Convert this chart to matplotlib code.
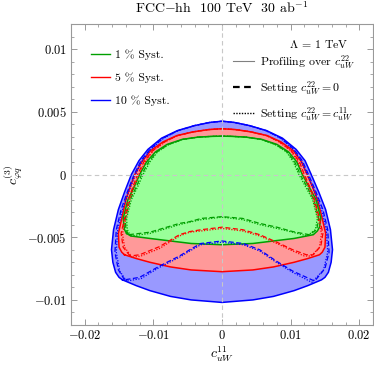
import numpy as np
import matplotlib
matplotlib.use("Agg")
import matplotlib.pyplot as plt
from matplotlib.lines import Line2D

plt.rcParams['font.family'] = 'serif'
plt.rcParams['font.serif'] = ['cmr10', 'DejaVu Serif']
plt.rcParams['mathtext.fontset'] = 'cm'
plt.rcParams['axes.formatter.use_mathtext'] = True

# ---------------- data, (c_uW^11, c_phiq^(3)) ----------------
# Profiling over c22 (solid, filled)
blue_solid = [(-0.0145, -0.0084), (-0.0150, -0.0082), (-0.0155, -0.0078), (-0.0159, -0.0070), (-0.0161, -0.0060),
              (-0.0158, -0.0044), (-0.0151, -0.0028), (-0.0142, -0.0014), (-0.0132, 0.0), (-0.0121, 0.0011),
              (-0.0108, 0.0020), (-0.0088, 0.0029), (-0.0065, 0.0035), (-0.0040, 0.0039), (-0.0018, 0.00415),
              (0.0, 0.00425), (0.0018, 0.00415), (0.0040, 0.0039), (0.0065, 0.0035), (0.0088, 0.0029),
              (0.0108, 0.0020), (0.0121, 0.0011), (0.0130, 0.0), (0.0141, -0.0014), (0.0151, -0.0028),
              (0.0158, -0.0044), (0.0161, -0.0060), (0.0159, -0.0070), (0.0155, -0.0078), (0.0150, -0.0082),
              (0.0145, -0.0084), (0.0125, -0.00886), (0.0105, -0.00926), (0.0075, -0.00972), (0.0045, -0.0100),
              (0.0, -0.0102), (-0.0045, -0.0100), (-0.0075, -0.00972), (-0.0105, -0.00926), (-0.0125, -0.00886),
              (-0.0145, -0.0084)]

red_solid = [(-0.0142, -0.0064), (-0.0146, -0.0062), (-0.0150, -0.0058), (-0.0151, -0.0047), (-0.0146, -0.0035),
             (-0.0140, -0.0020), (-0.0134, -0.0010), (-0.0127, 0.0), (-0.0117, 0.0010), (-0.0104, 0.0019),
             (-0.0086, 0.0026), (-0.0066, 0.0031), (-0.0042, 0.0034), (-0.0020, 0.00358), (0.0, 0.00365),
             (0.0020, 0.00358), (0.0042, 0.0034), (0.0066, 0.0031), (0.0086, 0.0026), (0.0104, 0.0019),
             (0.0116, 0.0010), (0.0124, 0.0), (0.0132, -0.0010), (0.0139, -0.0020), (0.0146, -0.0035),
             (0.0151, -0.0047), (0.0150, -0.0058), (0.0146, -0.0062), (0.0142, -0.0064), (0.0125, -0.0067),
             (0.0105, -0.0070), (0.0075, -0.00737), (0.0045, -0.00761), (0.0, -0.00775), (-0.0045, -0.00761),
             (-0.0075, -0.00737), (-0.0105, -0.0070), (-0.0125, -0.0067), (-0.0142, -0.0064)]

green_solid = [(-0.0139, -0.00470), (-0.0142, -0.0044), (-0.0144, -0.0035), (-0.0137, -0.0020), (-0.0128, -0.0010),
               (-0.0120, 0.0), (-0.0110, 0.0010), (-0.0097, 0.0018), (-0.0080, 0.0024), (-0.0058, 0.0028),
               (-0.0035, 0.00298), (-0.0015, 0.00304), (0.0, 0.00306), (0.0015, 0.00304), (0.0035, 0.00298),
               (0.0058, 0.0028), (0.0080, 0.0024), (0.0097, 0.0018), (0.0109, 0.0010), (0.0117, 0.0),
               (0.0127, -0.0010), (0.0137, -0.0020), (0.0144, -0.0035), (0.0142, -0.0042), (0.0139, -0.0045),
               (0.0133, -0.0048), (0.0105, -0.0051), (0.0075, -0.0053), (0.0045, -0.0055), (0.0, -0.0056),
               (-0.0045, -0.0055), (-0.0075, -0.0053), (-0.0105, -0.0051), (-0.0133, -0.0049), (-0.0139, -0.00470)]

# Setting c22 = 0 (dashed)
blue_dash = [(-0.0142, -0.0084), (-0.0151, -0.0076), (-0.0156, -0.0062), (-0.0154, -0.0044), (-0.0147, -0.0028),
             (-0.0138, -0.0014), (-0.0128, 0.0), (-0.0118, 0.0011), (-0.0105, 0.0020), (-0.0086, 0.0029),
             (-0.0064, 0.0035), (-0.0040, 0.0039), (-0.0018, 0.00415), (0.0, 0.00425), (0.0018, 0.00415),
             (0.0040, 0.0039), (0.0064, 0.0035), (0.0086, 0.0029), (0.0105, 0.0020), (0.0117, 0.0011),
             (0.0126, 0.0), (0.0137, -0.0014), (0.0147, -0.0028), (0.0154, -0.0044), (0.0156, -0.0062),
             (0.0150, -0.0075), (0.0135, -0.0085), (0.0103, -0.0077), (0.0079, -0.0069), (0.0055, -0.0060),
             (0.0031, -0.0055), (0.0, -0.0053), (-0.0031, -0.0055), (-0.0047, -0.0060), (-0.0062, -0.0065),
             (-0.0091, -0.0073), (-0.0120, -0.0082), (-0.0142, -0.0084)]

red_dash = [(-0.0134, -0.0065), (-0.0144, -0.0058), (-0.0147, -0.0047), (-0.0142, -0.0035), (-0.0136, -0.0020),
            (-0.0130, -0.0010), (-0.0123, 0.0), (-0.0114, 0.0010), (-0.0101, 0.0019), (-0.0084, 0.0026),
            (-0.0065, 0.0031), (-0.0042, 0.0034), (-0.0020, 0.00358), (0.0, 0.00365), (0.0020, 0.00358),
            (0.0042, 0.0034), (0.0065, 0.0031), (0.0084, 0.0026), (0.0101, 0.0019), (0.0113, 0.0010),
            (0.0120, 0.0), (0.0128, -0.0010), (0.0135, -0.0020), (0.0142, -0.0035), (0.0147, -0.0047),
            (0.0144, -0.0057), (0.0133, -0.0064), (0.0123, -0.0064), (0.0103, -0.0060), (0.0080, -0.0054),
            (0.0055, -0.0048), (0.0030, -0.0044), (0.0, -0.0042), (-0.0030, -0.0044), (-0.0047, -0.00455),
            (-0.0062, -0.0048), (-0.0091, -0.00575), (-0.0120, -0.0064), (-0.0134, -0.0065)]

green_dash = [(-0.0136, -0.0048), (-0.0140, -0.0044), (-0.0141, -0.0035), (-0.0134, -0.0020), (-0.0125, -0.0010),
              (-0.0117, 0.0), (-0.0107, 0.0010), (-0.0095, 0.0018), (-0.0078, 0.0024), (-0.0057, 0.0028),
              (-0.0035, 0.00298), (-0.0015, 0.00304), (0.0, 0.00306), (0.0015, 0.00304), (0.0035, 0.00298),
              (0.0057, 0.0028), (0.0078, 0.0024), (0.0095, 0.0018), (0.0106, 0.0010), (0.0114, 0.0),
              (0.0124, -0.0010), (0.0134, -0.0020), (0.0141, -0.0035), (0.0138, -0.0044), (0.0127, -0.0048),
              (0.0103, -0.00455), (0.0080, -0.0042), (0.0055, -0.0039), (0.0030, -0.0035), (0.0, -0.00336),
              (-0.0030, -0.0035), (-0.0047, -0.00376), (-0.0062, -0.0039), (-0.0105, -0.0046), (-0.0136, -0.0048)]

# Setting c22 = c11 (dotted)
blue_dot = [(-0.0139, -0.0085), (-0.0149, -0.0077), (-0.0154, -0.0062), (-0.0152, -0.0044), (-0.0145, -0.0028),
            (-0.0136, -0.0014), (-0.0126, 0.0), (-0.0116, 0.0011), (-0.0104, 0.0020), (-0.0085, 0.0029),
            (-0.0064, 0.0035), (-0.0040, 0.0039), (-0.0018, 0.00415), (0.0, 0.00425), (0.0018, 0.00415),
            (0.0040, 0.0039), (0.0064, 0.0035), (0.0085, 0.0029), (0.0104, 0.0020), (0.0115, 0.0011),
            (0.0124, 0.0), (0.0135, -0.0014), (0.0145, -0.0028), (0.0152, -0.0044), (0.0154, -0.0062),
            (0.0148, -0.0076), (0.0131, -0.0086), (0.0103, -0.0078), (0.0079, -0.0070), (0.0055, -0.0061),
            (0.0031, -0.0056), (0.0, -0.0054), (-0.0031, -0.0056), (-0.0047, -0.0061), (-0.0062, -0.0066),
            (-0.0091, -0.0074), (-0.0118, -0.0083), (-0.0139, -0.0085)]

red_dot = [(-0.0131, -0.0066), (-0.0142, -0.0058), (-0.0145, -0.0047), (-0.0140, -0.0035), (-0.0134, -0.0020),
           (-0.0128, -0.0010), (-0.0121, 0.0), (-0.0112, 0.0010), (-0.0100, 0.0019), (-0.0083, 0.0026),
           (-0.0065, 0.0031), (-0.0042, 0.0034), (-0.0020, 0.00358), (0.0, 0.00365), (0.0020, 0.00358),
           (0.0042, 0.0034), (0.0065, 0.0031), (0.0083, 0.0026), (0.0100, 0.0019), (0.0111, 0.0010),
           (0.0118, 0.0), (0.0126, -0.0010), (0.0133, -0.0020), (0.0140, -0.0035), (0.0145, -0.0047),
           (0.0142, -0.0058), (0.0130, -0.0065), (0.0120, -0.0065), (0.0103, -0.0061), (0.0080, -0.0055),
           (0.0055, -0.0049), (0.0030, -0.0045), (0.0, -0.0043), (-0.0030, -0.0045), (-0.0047, -0.0046),
           (-0.0062, -0.0049), (-0.0091, -0.0059), (-0.0118, -0.0065), (-0.0131, -0.0066)]

green_dot = [(-0.0133, -0.0049), (-0.0138, -0.0044), (-0.0139, -0.0035), (-0.0132, -0.0020), (-0.0123, -0.0010),
             (-0.0115, 0.0), (-0.0105, 0.0010), (-0.0094, 0.0018), (-0.0077, 0.0024), (-0.0057, 0.0028),
             (-0.0035, 0.00298), (-0.0015, 0.00304), (0.0, 0.00306), (0.0015, 0.00304), (0.0035, 0.00298),
             (0.0057, 0.0028), (0.0077, 0.0024), (0.0094, 0.0018), (0.0104, 0.0010), (0.0112, 0.0),
             (0.0122, -0.0010), (0.0132, -0.0020), (0.0139, -0.0035), (0.0136, -0.0044), (0.0124, -0.0049),
             (0.0103, -0.0046), (0.0080, -0.0043), (0.0055, -0.0040), (0.0030, -0.0036), (0.0, -0.0034),
             (-0.0030, -0.0036), (-0.0047, -0.0038), (-0.0062, -0.0040), (-0.0105, -0.0047), (-0.0133, -0.0049)]

legend_left_labels = ["1 % Syst.", "5 % Syst.", "10 % Syst."]
legend_right_labels = [r"Profiling over $c_{uW}^{22}$", r"Setting $c_{uW}^{22}=0$",
                       r"Setting $c_{uW}^{22}=c_{uW}^{11}$"]
xticks = [-0.02, -0.01, 0.0, 0.01, 0.02]
xticklabels = [r"$-0.02$", r"$-0.01$", r"$0$", r"$0.01$", r"$0.02$"]
yticks = [-0.01, -0.005, 0.0, 0.005, 0.01]
yticklabels = [r"$-0.01$", r"$-0.005$", r"$0$", r"$0.005$", r"$0.01$"]

# ---------------- styling ----------------
c_blue, c_red, c_green = '#0000ff', '#ff0000', '#00a000'
f_blue, f_red, f_green = '#9999ff', '#ff9999', '#99ff99'
axis_gray = '#999999'

fig = plt.figure(figsize=(3.74, 3.70), dpi=100)
ax = fig.add_axes([71/374, 1-325/370, 302/374, 301/370])

def xy(pts):
    a = np.array(pts)
    return a[:, 0], a[:, 1]

for pts, fc, ec in [(blue_solid, f_blue, c_blue), (red_solid, f_red, c_red), (green_solid, f_green, c_green)]:
    xs, ys = xy(pts)
    ax.fill(xs, ys, facecolor=fc, edgecolor='none', zorder=1)
    ax.plot(xs, ys, color=ec, lw=1.1, zorder=3, solid_joinstyle='round')

for pts, col in [(green_dash, c_green), (red_dash, c_red), (blue_dash, c_blue)]:
    xs, ys = xy(pts)
    ax.plot(xs, ys, color=col, lw=0.9, dashes=(4, 2), zorder=4)
for pts, col in [(green_dot, c_green), (red_dot, c_red), (blue_dot, c_blue)]:
    xs, ys = xy(pts)
    ax.plot(xs, ys, color=col, lw=0.9, dashes=(1, 1.2), zorder=4)

ax.axhline(0, color='#c8c8c8', lw=0.8, dashes=(4, 3), zorder=5)
ax.axvline(0, color='#c8c8c8', lw=0.8, dashes=(4, 3), zorder=5)

ax.set_xlim(-0.022, 0.022)
ax.set_ylim(-0.012, 0.012)
ax.set_xticks(xticks)
ax.set_xticklabels(xticklabels)
ax.set_yticks(yticks)
ax.set_yticklabels(yticklabels)
ax.set_xticks(np.arange(-0.022, 0.0221, 0.002), minor=True)
ax.set_yticks(np.arange(-0.012, 0.0121, 0.001), minor=True)
ax.tick_params(which='both', direction='in', top=True, right=True, color=axis_gray, labelsize=9, pad=3)
ax.tick_params(which='major', length=4, width=0.7)
ax.tick_params(which='minor', length=2, width=0.6)
for s in ax.spines.values():
    s.set_color(axis_gray)
    s.set_linewidth(0.8)

ax.set_xlabel(r"$c_{uW}^{11}$", fontsize=10, labelpad=2)
ax.set_ylabel(r"$c_{\varphi q}^{(3)}$", fontsize=10, labelpad=2)
ax.set_title(r"FCC$-$hh  100 TeV  30 ab$^{-1}$", fontsize=10, pad=8)

h_left = [Line2D([], [], color=c, lw=1.0) for c in [c_green, c_red, c_blue]]
leg1 = ax.legend(h_left, legend_left_labels, loc='upper left', bbox_to_anchor=(0.065, 0.915),
                 frameon=False, fontsize=8.5, handlelength=1.6, handletextpad=0.5,
                 labelspacing=1.05, borderpad=0, borderaxespad=0)
ax.add_artist(leg1)

h_right = [Line2D([], [], color='#808080', lw=0.8),
           Line2D([], [], color='black', lw=1.6, dashes=(3, 2)),
           Line2D([], [], color='black', lw=1.0, dashes=(1, 1))]
ax.legend(h_right, legend_right_labels, loc='upper left', bbox_to_anchor=(0.535, 0.905),
          frameon=False, fontsize=8.5, handlelength=1.8, handletextpad=0.5,
          labelspacing=0.7, borderpad=0, borderaxespad=0)
ax.text(0.918, 0.935, r"$\Lambda$ = 1 TeV", transform=ax.transAxes, ha='right', va='center', fontsize=8.5)

fig.savefig("out.png", dpi=100)
